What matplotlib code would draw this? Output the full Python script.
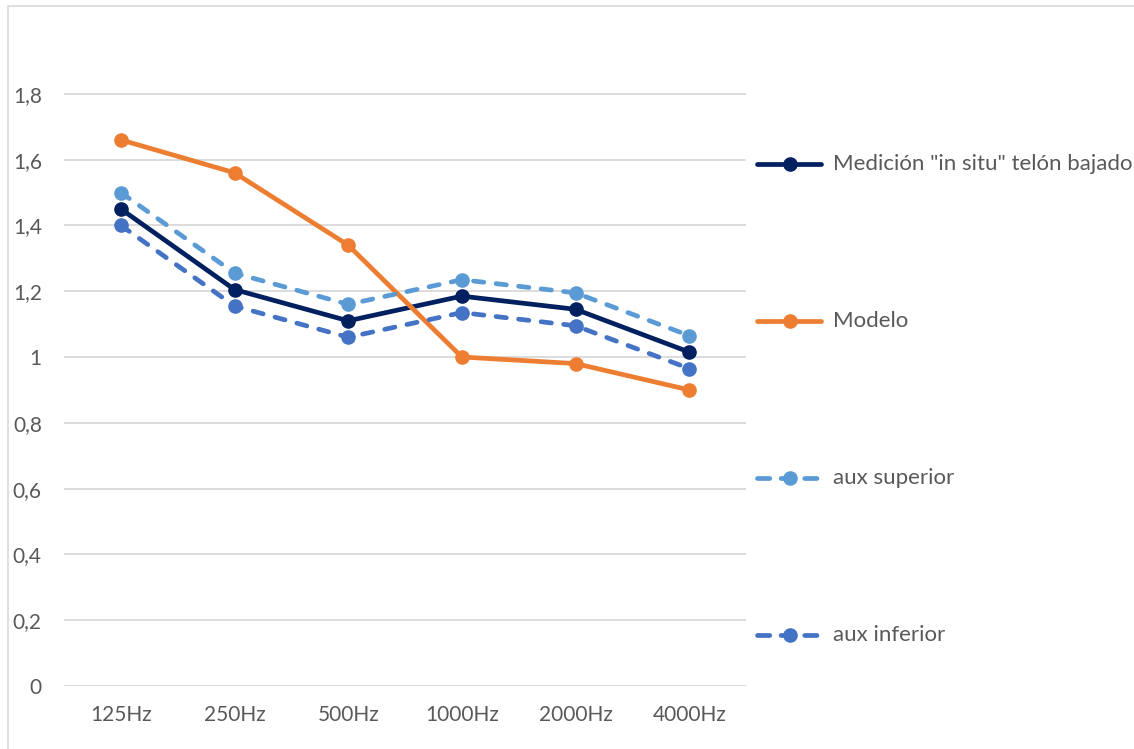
import matplotlib
matplotlib.use("Agg")
import matplotlib.pyplot as plt
from matplotlib.lines import Line2D
from matplotlib.patches import Rectangle

# Frequency bands and measured / modelled values
bands = ["125Hz", "250Hz", "500Hz", "1000Hz", "2000Hz", "4000Hz"]
medicion = [1.45, 1.205, 1.11, 1.185, 1.145, 1.015]
modelo = [1.66, 1.56, 1.34, 1.00, 0.98, 0.90]
aux_superior = [1.50, 1.255, 1.16, 1.235, 1.195, 1.065]
aux_inferior = [1.40, 1.155, 1.06, 1.135, 1.095, 0.965]
y_ticks = [0, 0.2, 0.4, 0.6, 0.8, 1.0, 1.2, 1.4, 1.6, 1.8]
y_tick_labels = ["0", "0,2", "0,4", "0,6", "0,8", "1", "1,2", "1,4", "1,6", "1,8"]

series = [
    ("Medición \"in situ\" telón bajado", medicion, "#002060", "solid"),
    ("Modelo", modelo, "#ED7D31", "solid"),
    ("aux superior", aux_superior, "#5B9BD5", "dashed"),
    ("aux inferior", aux_inferior, "#4472C4", "dashed"),
]

W, H = 1134, 749
plt.rcParams["font.family"] = ["Lato", "DejaVu Sans"]
text_color = "#595959"

fig = plt.figure(figsize=(W / 100, H / 100), dpi=100)
fig.patch.set_facecolor("white")

# chart area border (extends past the right and bottom edges)
fig.add_artist(Rectangle((8 / W, -0.1), 1.2, (H - 6) / H + 0.1,
                         transform=fig.transFigure, fill=False,
                         edgecolor="#D9D9D9", linewidth=1.2))

ax = fig.add_axes([64 / W, (H - 686) / H, 682 / W, (686 - 28) / H])
x = list(range(len(bands)))

lw = 3.4
dash = (2.2, 2.6)
for i, (name, vals, color, style) in enumerate(series):
    kw = dict(color=color, linewidth=lw, marker="o", markersize=9.5,
              solid_capstyle="round", dash_capstyle="round", zorder=3 + i)
    if style == "dashed":
        ax.plot(x, vals, linestyle=(0, dash), **kw)
    else:
        ax.plot(x, vals, linestyle="-", **kw)

ax.set_xlim(-0.5, len(bands) - 0.5)
ax.set_ylim(0, 2.0)
ax.set_yticks(y_ticks)
ax.set_yticklabels(y_tick_labels)
ax.set_xticks(x)
ax.set_xticklabels(bands)
ax.grid(axis="y", color="#D9D9D9", linewidth=1.3)
ax.set_axisbelow(True)
for s in ax.spines.values():
    s.set_visible(False)
ax.tick_params(axis="both", length=0, labelsize=15, colors=text_color)
ax.tick_params(axis="y", pad=16)
ax.tick_params(axis="x", pad=14)

# legend entries on the right
legend_y = [164, 321, 478, 635]
legend_dash = (2.6, 2.4)
for (name, vals, color, style), yy in zip(series, legend_y):
    yf = (H - yy) / H
    ls = (0, legend_dash) if style == "dashed" else "-"
    fig.add_artist(Line2D([757 / W, 821 / W], [yf, yf], transform=fig.transFigure,
                          color=color, linewidth=lw, linestyle=ls,
                          solid_capstyle="round", dash_capstyle="round"))
    fig.add_artist(Line2D([790 / W], [yf], transform=fig.transFigure,
                          color=color, marker="o", markersize=9.5, linestyle="none"))
    fig.text(833 / W, yf, name, fontsize=16, color=text_color,
             ha="left", va="center")

fig.savefig("out.png", dpi=100, facecolor="white")
